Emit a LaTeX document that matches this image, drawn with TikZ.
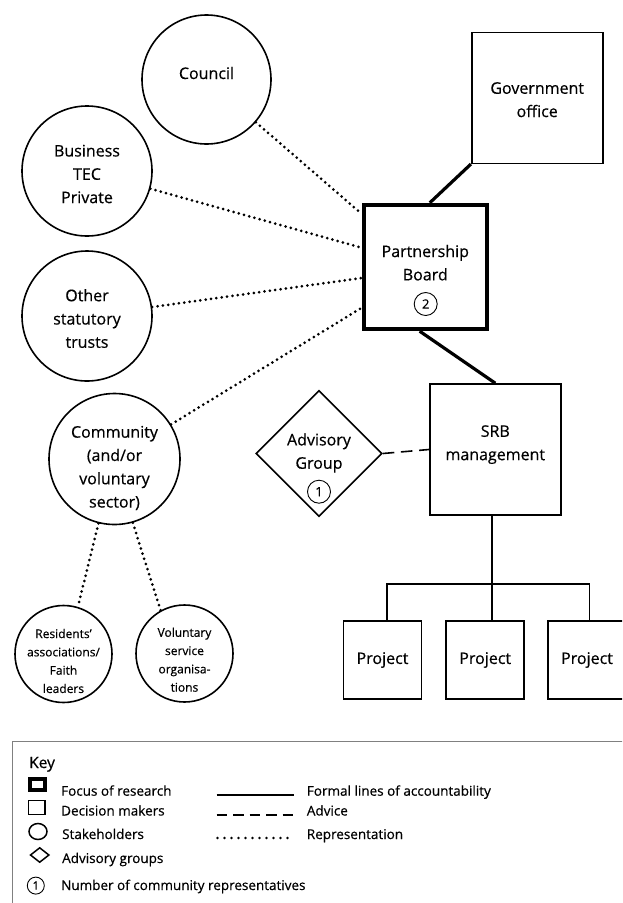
\documentclass[tikz,border=0pt]{standalone}
\usepackage{fontspec}
\setmainfont{Open Sans}[FakeBold=0.5]
\usetikzlibrary{shapes.geometric,calc}

\begin{document}
\begin{tikzpicture}[x=1pt,y=-1pt,
  stake/.style={circle, draw, line width=1.6pt, inner sep=0pt},
  decider/.style={rectangle, draw, line width=1.6pt, minimum width=131pt, minimum height=131pt, inner sep=0pt},
  focusbox/.style={rectangle, draw, line width=4.4pt, minimum width=123pt, minimum height=124pt, inner sep=0pt},
  advbox/.style={diamond, draw, line width=1.6pt, minimum width=126pt, minimum height=126pt, inner sep=0pt},
  projbox/.style={rectangle, draw, line width=1.6pt, minimum width=78pt, minimum height=78pt, inner sep=0pt, font=\fontsize{16}{23.3}\selectfont},
  numc/.style={circle, draw, line width=0.9pt, minimum size=23pt, inner sep=0pt, font=\fontsize{13}{13}\selectfont},
  lbl/.style={align=center, inner sep=0pt, font=\fontsize{16}{23.3}\selectfont},
  smalltxt/.style={align=center, inner sep=0pt, font=\fontsize{12}{18.3}\selectfont},
  keytxt/.style={anchor=base west, inner sep=0pt, font=\fontsize{13.5}{16}\selectfont},
  repline/.style={line width=3pt, line cap=round, dash pattern=on 0pt off 5.4pt},
  formalline/.style={line width=3.2pt},
  adviceline/.style={line width=1.6pt, dash pattern=on 11.5pt off 6.7pt},
  treeline/.style={line width=1.6pt}
]
\path[use as bounding box] (0,0) rectangle (622,903);
\clip (0,0) rectangle (622,903);

% stakeholders
\node[stake, minimum size=129pt] (council) at (206.5,79.5) {};
\node[lbl] (counciltxt) at (206.5,73) {Council};
\node[stake, minimum size=130pt] (business) at (87,171) {};
\node[lbl] (businesstxt) at (87,174) {Business\\TEC\\Private};
\node[stake, minimum size=130pt] (trusts) at (87,316) {};
\node[lbl] (truststxt) at (87,318.5) {Other\\statutory\\trusts};
\node[stake, minimum size=131pt] (community) at (114.5,459) {};
\node[lbl] (communitytxt) at (114.5,468) {Community\\(and/or\\voluntary\\sector)};
\node[stake, minimum size=97pt] (residents) at (63.5,654) {};
\node[smalltxt] (residentstxt) at (63.5,661) {Residents'\\associations/\\Faith\\leaders};
\node[stake, minimum size=97pt] (volserv) at (184.5,653.5) {};
\node[smalltxt] (volservtxt) at (184.5,659.7) {Voluntary\\service\\organisa-\\tions};

% decision makers
\node[decider] (gov) at (537.2,97.8) {};
\node[lbl] (govtxt) at (537.2,99.7) {Government\\office};
\node[focusbox] (pb) at (425.3,267) {};
\node[lbl] (pbtxt) at (425.3,262.7) {Partnership\\Board};
\node[numc] (pbnum) at (425.7,304) {2};
\node[decider] (srb) at (495.3,449.5) {};
\node[lbl] (srbtxt) at (495.3,444.6) {SRB\\management};
\node[advbox] (adv) at (319,453.5) {};
\node[lbl] (advtxt) at (319,452.9) {Advisory\\Group};
\node[numc] (advnum) at (319,491.7) {1};
\node[projbox] (p1) at (382.5,660) {Project};
\node[projbox] (p2) at (485.2,660) {Project};
\node[projbox] (p3) at (587,660) {Project};

% formal lines and advice
\draw[formalline] (gov.south west) -- (pb.86);
\draw[formalline] (pb.-95) -- (srb.north);
\draw[adviceline] (adv.east) -- (srb.west);
\coordinate (hub) at (491.7,584);
\coordinate (b1) at (386.7,584);
\coordinate (b3) at (589.3,584);
\draw[treeline] (hub |- srb.south) -- (hub |- p2.north);
\draw[treeline] (b1 |- p1.north) -- (b1) -- (b3) -- (b3 |- p3.north);

% representation
\coordinate (pbL1) at ($(pb.north west)!0.086!(pb.south west)$);
\coordinate (pbL2) at ($(pb.north west)!0.35!(pb.south west)$);
\coordinate (pbL3) at ($(pb.north west)!0.586!(pb.south west)$);
\coordinate (pbL4) at ($(pb.north west)!0.818!(pb.south west)$);
\draw[repline] (council) -- (pbL1);
\draw[repline] (business) -- (pbL2);
\draw[repline] (trusts) -- (pbL3);
\draw[repline] (community) -- (pbL4);
\draw[repline] (community.-104) -- (residents.73);
\draw[repline] (community.-74) -- (volserv.119);

% key
\draw[gray, line width=1.3pt] (12.7,741.7) rectangle (640,920);
\node[keytxt, font=\fontsize{15.5}{18}\selectfont] (keytitle) at (29,768) {Key};
\node[draw, line width=4pt, minimum width=15pt, minimum height=11pt, inner sep=0pt] (kfocus) at (37.3,784.5) {};
\node[draw, line width=1.4pt, minimum width=16.5pt, minimum height=14.5pt, inner sep=0pt] (kdec) at (36.8,807.5) {};
\node[ellipse, draw, line width=1.5pt, minimum width=18pt, minimum height=16pt, inner sep=0pt] (kstake) at (38,831.5) {};
\node[diamond, draw, line width=1.5pt, minimum width=19pt, minimum height=15pt, inner sep=0pt] (kadv) at (39.7,855) {};
\node[numc, minimum size=17pt, font=\fontsize{11.5}{12}\selectfont] (knum) at (35.8,885.6) {1};
\node[keytxt] (kfocustxt) at (61,795.7) {Focus of research};
\node[keytxt] (kdectxt) at (61,815.5) {Decision makers};
\node[keytxt] (kstaketxt) at (62,839) {Stakeholders};
\node[keytxt] (kadvtxt) at (62,863) {Advisory groups};
\node[keytxt] (knumtxt) at (61,890) {Number of community representatives};
\coordinate (ka1) at (216.7,795);
\coordinate (ka2) at (294,795);
\coordinate (kb1) at (216.7,815);
\coordinate (kb2) at (294,815);
\coordinate (kc1) at (217.5,838);
\coordinate (kc2) at (294,838);
\draw[line width=2.8pt] (ka1) -- (ka2);
\draw[line width=2.8pt, dash pattern=on 10.3pt off 6.2pt] (kb1) -- (kb2);
\draw[line width=2.6pt, line cap=round, dash pattern=on 0pt off 7pt] (kc1) -- (kc2);
\node[keytxt] (kformaltxt) at (306.7,795.7) {Formal lines of accountability};
\node[keytxt] (kadvicetxt) at (306.7,815.5) {Advice};
\node[keytxt] (kreptxt) at (306.7,839) {Representation};
\end{tikzpicture}
\end{document}
